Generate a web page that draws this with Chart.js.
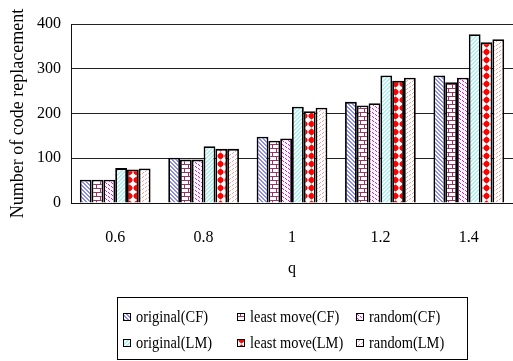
<!DOCTYPE html>
<html>
<head>
<meta charset="utf-8">
<script src="https://cdn.jsdelivr.net/npm/chart.js@4/dist/chart.umd.min.js"></script>
<style>
  html, body { margin: 0; padding: 0; background: #fff; }
  #wrap { width: 513px; height: 361px; position: relative; }
</style>
</head>
<body>
<div id="wrap"><canvas id="c" width="513" height="361"></canvas></div>
<script>
// q values on the x axis
const categories = ['0.6', '0.8', '1', '1.2', '1.4'];

// Number of code replacements per series
const originalCF  = [52, 101, 148, 226, 285];
const leastMoveCF = [52, 97, 139, 218, 270];
const randomCF    = [52, 97, 144, 223, 280];
const originalLM  = [78, 127, 215, 285, 377];
const leastMoveLM = [75, 121, 205, 273, 359];
const randomLM    = [77, 121, 213, 280, 366];

const seriesNames = ['original(CF)', 'least move(CF)', 'random(CF)',
                     'original(LM)', 'least move(LM)', 'random(LM)'];

const yTicks = [0, 100, 200, 300, 400];

const FONT = "'Liberation Serif', 'Times New Roman', serif";

// ---- fill patterns -------------------------------------------------------
function makePattern(w, h, draw) {
  const c = document.createElement('canvas');
  c.width = w; c.height = h;
  const g = c.getContext('2d');
  g.fillStyle = '#fff';
  g.fillRect(0, 0, w, h);
  draw(g);
  return g.createPattern(c, 'repeat');
}

// "\" stripes
function backStripes(color, n) {
  return makePattern(n, n, g => {
    g.fillStyle = color;
    for (let i = 0; i < n; i++) {
      g.fillRect(i, i, 1, 1);
      g.fillRect((i + 1) % n, i, 1, 1);
    }
  });
}
// "/" stripes
function fwdStripes(color, n) {
  return makePattern(n, n, g => {
    g.fillStyle = color;
    for (let i = 0; i < n; i++) {
      g.fillRect(n - 1 - i, i, 1, 1);
      g.fillRect((n - i) % n, i, 1, 1);
    }
  });
}
// short dashes along "\" or "/"
function dashes(color, forward) {
  return makePattern(6, 4, g => {
    g.fillStyle = color;
    const pts = [[0, 0], [1, 1], [3, 2], [4, 3]];
    pts.forEach(([x, y]) => {
      g.fillRect(forward ? 5 - x : x, y, 1, 1);
    });
  });
}
// brick wall
function bricks(color) {
  return makePattern(8, 8, g => {
    g.fillStyle = color;
    g.fillRect(0, 0, 8, 1);
    g.fillRect(0, 4, 8, 1);
    g.fillRect(0, 0, 1, 4);
    g.fillRect(4, 4, 1, 4);
  });
}
// red blobs
function blobs(color) {
  return makePattern(7, 8, g => {
    g.fillStyle = color;
    g.beginPath();
    g.moveTo(3.5, 0.2); g.lineTo(6.8, 4); g.lineTo(3.5, 7.8); g.lineTo(0.2, 4);
    g.closePath();
    g.fill();
    g.beginPath();
    g.arc(3.5, 4, 2.8, 0, Math.PI * 2);
    g.fill();
  });
}

const fills = [
  backStripes('#8c8cf0', 4),
  bricks('#993366'),
  dashes('#ff00ff', false),
  fwdStripes('#a8f4f4', 4),
  blobs('#ff0000'),
  dashes('#ff9a9a', true)
];

const seriesData = [originalCF, leastMoveCF, randomCF, originalLM, leastMoveLM, randomLM];

const datasets = seriesData.map((d, i) => ({
  label: seriesNames[i],
  data: d,
  backgroundColor: fills[i],
  borderColor: '#000',
  borderWidth: 1.8,
  borderSkipped: 'bottom',
  categoryPercentage: 0.8,
  barPercentage: 1.0
}));

// ---- boxed legend in two rows of three -----------------------------------
const boxLegend = {
  id: 'boxLegend',
  afterDraw(chart) {
    const ctx = chart.ctx;
    const area = chart.chartArea;
    const cx = (area.left + area.right) / 2;
    const left = cx - 175, top = 297, w = 350, h = 62;
    ctx.save();
    ctx.strokeStyle = '#000';
    ctx.lineWidth = 1;
    ctx.strokeRect(left + 0.5, top + 0.5, w, h);
    const colX = [6, 120, 239];
    const rowY = [20, 46];
    ctx.font = '16px ' + FONT;
    ctx.textBaseline = 'middle';
    chart.data.datasets.forEach((ds, i) => {
      const col = i % 3, row = Math.floor(i / 3);
      const sx = left + colX[col], sy = top + rowY[row];
      ctx.fillStyle = ds.backgroundColor;
      ctx.fillRect(sx, sy - 4, 8, 8);
      ctx.strokeStyle = '#000';
      ctx.strokeRect(sx + 0.5, sy - 3.5, 7, 7);
      ctx.fillStyle = '#000';
      // slightly condensed label text
      ctx.save();
      ctx.translate(sx + 13, sy + 1);
      ctx.scale(0.9, 1);
      ctx.fillText(ds.label, 0, 0);
      ctx.restore();
    });
    ctx.restore();
  }
};

new Chart(document.getElementById('c'), {
  type: 'bar',
  data: { labels: categories, datasets },
  options: {
    responsive: false,
    animation: false,
    devicePixelRatio: 1,
    layout: { padding: { top: 24, right: 0, bottom: 79, left: 0 } },
    plugins: {
      legend: { display: false },
      tooltip: { enabled: false }
    },
    scales: {
      x: {
        grid: { display: false, drawTicks: false },
        border: { display: true, color: '#111', width: 1 },
        ticks: { color: '#000', padding: 25, font: { family: FONT, size: 16 } },
        title: { display: true, text: 'q', color: '#000', padding: 4,
                 font: { family: FONT, size: 16 } },
        afterFit(s) { s.height = 79; }
      },
      y: {
        min: 0, max: 400,
        afterBuildTicks(s) { s.ticks = yTicks.map(v => ({ value: v })); },
        grid: { color: '#222', lineWidth: 1, drawTicks: false },
        border: { display: true, color: '#111', width: 1 },
        ticks: { color: '#000', padding: 10, font: { family: FONT, size: 16 } },
        title: { display: true, text: 'Number of code replacement', color: '#000',
                 padding: { top: 7, bottom: 0 }, font: { family: FONT, size: 18 } },
        afterFit(s) { s.width = 71; }
      }
    }
  },
  plugins: [boxLegend]
});
</script>
</body>
</html>
